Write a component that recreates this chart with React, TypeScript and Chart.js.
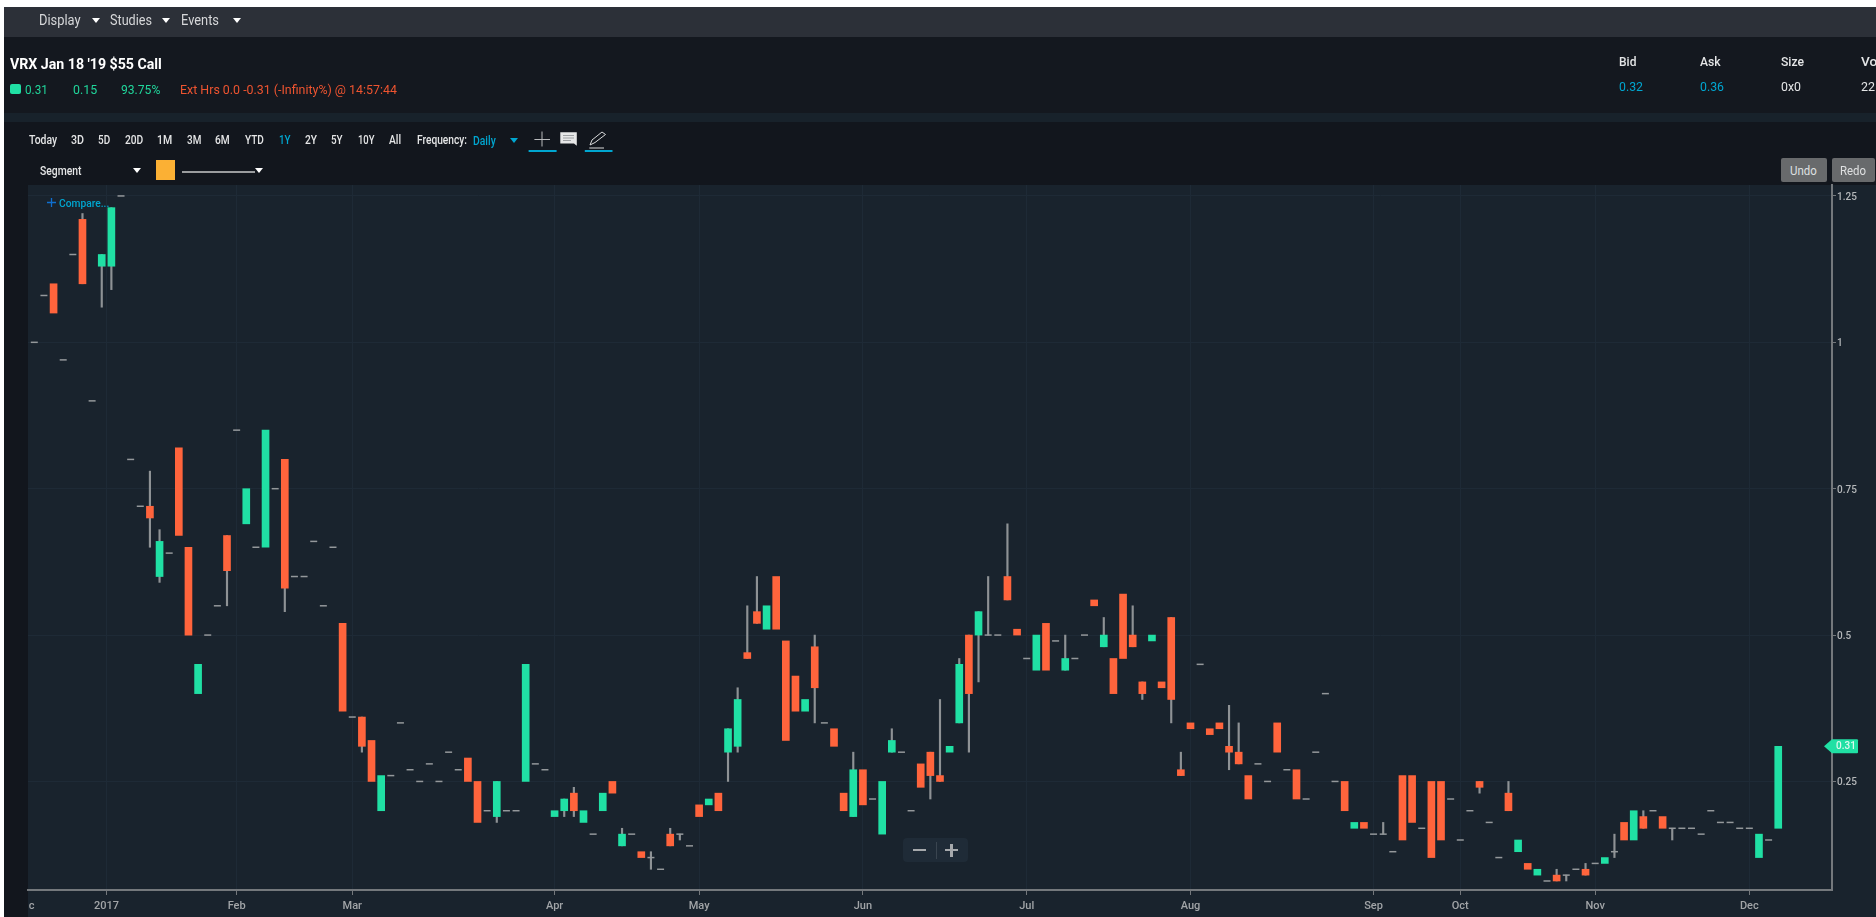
import React, { useEffect, useRef } from "react";
import { Chart, registerables } from "chart.js";

Chart.register(...registerables);

// Daily sessions, in order, left to right
const opens = [
  1.0, 1.08, 1.1, 0.97, 1.15, 1.21, 0.9, 1.13, 1.13, 1.25,
  0.8, 0.72, 0.72, 0.6, 0.64, 0.82, 0.65, 0.4, 0.5, 0.55,
  0.67, 0.85, 0.69, 0.65, 0.65, 0.75, 0.8, 0.6, 0.6, 0.66,
  0.55, 0.65, 0.52, 0.36, 0.36, 0.32, 0.2, 0.26, 0.35, 0.27,
  0.25, 0.28, 0.25, 0.3, 0.27, 0.29, 0.25, 0.2, 0.19, 0.2,
  0.2, 0.25, 0.28, 0.27, 0.19, 0.2, 0.23, 0.18, 0.16, 0.2,
  0.25, 0.14, 0.16, 0.13, 0.12, 0.1, 0.16, 0.16, 0.14, 0.21,
  0.21, 0.23, 0.3, 0.31, 0.47, 0.54, 0.51, 0.6, 0.49, 0.43,
  0.37, 0.48, 0.35, 0.34, 0.23, 0.19, 0.27, 0.22, 0.16, 0.3,
  0.3, 0.2, 0.28, 0.3, 0.26, 0.3, 0.35, 0.5, 0.5, 0.5,
  0.5, 0.6, 0.51, 0.46, 0.44, 0.52, 0.49, 0.44, 0.46, 0.5,
  0.56, 0.48, 0.46, 0.57, 0.5, 0.42, 0.49, 0.42, 0.53, 0.27,
  0.35, 0.45, 0.34, 0.35, 0.31, 0.3, 0.26, 0.28, 0.25, 0.35,
  0.27, 0.27, 0.22, 0.3, 0.4, 0.25, 0.25, 0.17, 0.18, 0.16,
  0.16, 0.13, 0.26, 0.26, 0.17, 0.25, 0.25, 0.22, 0.15, 0.2,
  0.25, 0.18, 0.12, 0.23, 0.13, 0.11, 0.09, 0.08, 0.09, 0.09,
  0.1, 0.1, 0.11, 0.11, 0.13, 0.18, 0.15, 0.19, 0.2, 0.19,
  0.17, 0.17, 0.17, 0.16, 0.2, 0.18, 0.18, 0.17, 0.17, 0.12,
  0.15, 0.17,
];
const closes = [
  1.0, 1.08, 1.05, 0.97, 1.15, 1.1, 0.9, 1.15, 1.23, 1.25,
  0.8, 0.72, 0.7, 0.66, 0.64, 0.67, 0.5, 0.45, 0.5, 0.55,
  0.61, 0.85, 0.75, 0.65, 0.85, 0.75, 0.58, 0.6, 0.6, 0.66,
  0.55, 0.65, 0.37, 0.36, 0.31, 0.25, 0.26, 0.26, 0.35, 0.27,
  0.25, 0.28, 0.25, 0.3, 0.27, 0.25, 0.18, 0.2, 0.25, 0.2,
  0.2, 0.45, 0.28, 0.27, 0.2, 0.22, 0.2, 0.2, 0.16, 0.23,
  0.23, 0.16, 0.16, 0.12, 0.12, 0.1, 0.14, 0.16, 0.14, 0.19,
  0.22, 0.2, 0.34, 0.39, 0.46, 0.52, 0.55, 0.51, 0.32, 0.37,
  0.39, 0.41, 0.35, 0.31, 0.2, 0.27, 0.21, 0.22, 0.25, 0.32,
  0.3, 0.2, 0.24, 0.26, 0.25, 0.31, 0.45, 0.4, 0.54, 0.5,
  0.5, 0.56, 0.5, 0.46, 0.5, 0.44, 0.49, 0.46, 0.46, 0.5,
  0.55, 0.5, 0.4, 0.46, 0.48, 0.4, 0.5, 0.41, 0.39, 0.26,
  0.34, 0.45, 0.33, 0.34, 0.3, 0.28, 0.22, 0.28, 0.25, 0.3,
  0.27, 0.22, 0.22, 0.3, 0.4, 0.25, 0.2, 0.18, 0.17, 0.16,
  0.16, 0.13, 0.15, 0.18, 0.17, 0.12, 0.15, 0.22, 0.15, 0.2,
  0.24, 0.18, 0.12, 0.2, 0.15, 0.1, 0.1, 0.08, 0.08, 0.09,
  0.1, 0.09, 0.11, 0.12, 0.13, 0.15, 0.2, 0.17, 0.2, 0.17,
  0.17, 0.17, 0.17, 0.16, 0.2, 0.18, 0.18, 0.17, 0.17, 0.16,
  0.15, 0.31,
];

// Sessions whose range reaches beyond the body
const wickSessions = [5, 7, 8, 12, 13, 20, 26, 34, 48, 55, 56, 61, 64, 66, 67, 72, 73, 74, 75, 81, 85, 89, 93, 94, 96, 97, 98, 99, 101, 107, 111, 114, 115, 118, 119, 124, 125, 140, 150, 153, 158, 159, 161, 164, 167, 170];
const wickHighs = [1.22, 1.15, 1.23, 0.78, 0.68, 0.67, 0.8, 0.36, 0.25, 0.22, 0.24, 0.17, 0.13, 0.17, 0.16, 0.34, 0.41, 0.55, 0.6, 0.5, 0.3, 0.34, 0.3, 0.39, 0.46, 0.5, 0.54, 0.6, 0.69, 0.5, 0.53, 0.55, 0.42, 0.53, 0.3, 0.38, 0.35, 0.18, 0.25, 0.25, 0.1, 0.09, 0.11, 0.16, 0.2, 0.17];
const wickLows = [1.1, 1.06, 1.09, 0.65, 0.59, 0.55, 0.54, 0.3, 0.18, 0.19, 0.19, 0.14, 0.1, 0.14, 0.15, 0.25, 0.3, 0.46, 0.52, 0.35, 0.19, 0.3, 0.22, 0.25, 0.35, 0.3, 0.42, 0.5, 0.56, 0.44, 0.48, 0.48, 0.39, 0.35, 0.26, 0.27, 0.28, 0.16, 0.23, 0.2, 0.08, 0.08, 0.09, 0.12, 0.17, 0.15];

const monthSessions = [-0.29, 7.5, 21, 33, 54, 69, 86, 103, 120, 139, 148, 162, 178];
const monthLabels = ["c", "2017", "Feb", "Mar", "Apr", "May", "Jun", "Jul", "Aug", "Sep", "Oct", "Nov", "Dec"];
const priceTicks = [0.25, 0.5, 0.75, 1, 1.25];
const priceLabels = ["0.25", "0.5", "0.75", "1", "1.25"];
const lastPrice = 0.31;

const GREEN = "#20E0A4";
const ORANGE = "#FF643C";
const WICK = "#8E9295";
const BLUE = "#00A6D0";

const sessions = opens.map((_, i) => i);

const flagPlugin = {
  id: "lastPriceFlag",
  afterDraw(chart: any) {
    const { ctx, scales } = chart;
    const y = scales.y.getPixelForValue(lastPrice);
    const right = scales.x.right;
    ctx.save();
    ctx.fillStyle = GREEN;
    ctx.beginPath();
    ctx.moveTo(right - 8, y);
    ctx.lineTo(right, y - 7);
    ctx.lineTo(right + 25, y - 7);
    ctx.quadraticCurveTo(right + 26, y - 7, right + 26, y - 6);
    ctx.lineTo(right + 26, y + 6);
    ctx.quadraticCurveTo(right + 26, y + 7, right + 25, y + 7);
    ctx.lineTo(right, y + 7);
    ctx.closePath();
    ctx.fill();
    ctx.fillStyle = "#DDF8EE";
    ctx.font = "500 10px Roboto";
    ctx.textAlign = "center";
    ctx.textBaseline = "middle";
    ctx.fillText(String(lastPrice), right + 14, y + 0.5);
    ctx.restore();
  },
};

function T({ t, x, e, y, s = 12, c = "#E4E5E6", w = 500 }: any) {
  const lh = Math.round(s * 1.3);
  return (
    <span
      ref={(el) => {
        if (el) {
          el.style.transform = "none";
          el.style.transform = `scaleX(${(e - x) / el.getBoundingClientRect().width})`;
        }
      }}
      style={{
        position: "absolute",
        left: x,
        top: y - lh / 2,
        lineHeight: `${lh}px`,
        fontFamily: "Roboto",
        fontSize: s,
        fontWeight: w,
        color: c,
        whiteSpace: "nowrap",
        transformOrigin: "left center",
      }}
    >
      {t}
    </span>
  );
}

function Arrow({ x, y, c = "#FFFFFF" }: any) {
  return (
    <div
      style={{
        position: "absolute",
        left: x,
        top: y - 2.5,
        width: 0,
        height: 0,
        borderLeft: "4.5px solid transparent",
        borderRight: "4.5px solid transparent",
        borderTop: `5px solid ${c}`,
      }}
    />
  );
}

function Box({ x, y, w, h, c, r = 0 }: any) {
  return <div style={{ position: "absolute", left: x, top: y, width: w, height: h, background: c, borderRadius: r }} />;
}

export default function App() {
  const ref = useRef<HTMLCanvasElement>(null);

  useEffect(() => {
    const bodyIdx = sessions.filter((i) => opens[i] !== closes[i]);
    const dashIdx = sessions.filter((i) => opens[i] === closes[i]);
    const chart = new Chart(ref.current!, {
      type: "bar",
      plugins: [flagPlugin],
      data: {
        datasets: [
          {
            type: "scatter",
            order: 0,
            data: dashIdx.map((i) => ({ x: i, y: opens[i] })),
            pointStyle: "line",
            pointRadius: 3.5,
            pointBorderWidth: 1.5,
            pointBorderColor: "#94989B",
            pointBackgroundColor: "#94989B",
            showLine: false,
          },
          {
            type: "bar",
            order: 1,
            data: bodyIdx.map((i) => ({ x: i, y: [opens[i], closes[i]] })),
            backgroundColor: bodyIdx.map((i) => (closes[i] > opens[i] ? GREEN : ORANGE)),
            barThickness: 7,
            grouped: false,
          },
          {
            type: "bar",
            order: 2,
            data: wickSessions.map((s, k) => ({ x: s, y: [wickLows[k], wickHighs[k]] })),
            backgroundColor: WICK,
            barThickness: 1.5,
            grouped: false,
          },
        ],
      } as any,
      options: {
        responsive: false,
        animation: false,
        layout: { padding: { left: 28, top: 185, right: 0, bottom: 0 } },
        plugins: { legend: { display: false }, tooltip: { enabled: false } },
        scales: {
          x: {
            type: "linear",
            offset: false,
            min: -0.654,
            max: 186.58,
            afterFit(axis: any) {
              axis.height = 27;
            },
            afterBuildTicks(axis: any) {
              axis.ticks = monthSessions.map((value) => ({ value }));
            },
            border: { color: "#74787C", width: 2 },
            grid: {
              offset: false,
              color: (c: any) => (c.index === 0 ? "rgba(0,0,0,0)" : "#1E2A36"),
              tickColor: (c: any) => (c.index === 0 ? "rgba(0,0,0,0)" : "#74787C"),
              tickLength: 5,
              lineWidth: 1,
            },
            ticks: {
              autoSkip: false,
              maxRotation: 0,
              padding: 5,
              color: "#A2A5A8",
              font: { family: "Roboto", size: 11, weight: 500 },
              callback: (_: any, i: number) => monthLabels[i],
            },
          },
          y: {
            type: "linear",
            position: "right",
            min: 0.0646,
            max: 1.2687,
            afterFit(axis: any) {
              axis.width = 44;
            },
            afterBuildTicks(axis: any) {
              axis.ticks = priceTicks.map((value) => ({ value }));
            },
            border: { color: "#74787C", width: 2 },
            grid: {
              color: "#1E2A36",
              tickColor: "#74787C",
              tickLength: 4,
              lineWidth: 1,
            },
            ticks: {
              padding: 1,
              labelOffset: 1.5,
              color: "#B4B7B9",
              font: { family: "Roboto", size: 10, weight: 500 },
              callback: (_: any, i: number) => priceLabels[i],
            },
          },
        },
      } as any,
    });
    return () => chart.destroy();
  }, []);

  return (
    <div style={{ position: "fixed", left: 0, top: 0, width: 1876, height: 917, overflow: "hidden", background: "#FFFFFF" }}>
      <Box x={4} y={7} w={1872} h={30} c="#2C3038" />
      <Box x={4} y={37} w={1872} h={76} c="#14181F" />
      <Box x={4} y={113} w={1872} h={9} c="#18222B" />
      <Box x={4} y={122} w={1872} h={795} c="#12161D" />
      <Box x={28} y={185} w={1848} h={732} c="#19232D" />

      <canvas ref={ref} width={1876} height={917} style={{ position: "absolute", left: 0, top: 0, display: "block" }} />

      <T t="Display" x={38.8} e={80.4} y={20} s={14} w={400} c="#D6D7D9" />
      <Arrow x={91.5} y={20} />
      <T t="Studies" x={109.8} e={151.8} y={20} s={14} w={400} c="#D6D7D9" />
      <Arrow x={161.6} y={20} />
      <T t="Events" x={180.8} e={218.8} y={20} s={14} w={400} c="#D6D7D9" />
      <Arrow x={233} y={20} />

      <T t="VRX Jan 18 '19 $55 Call" x={9.8} e={161.6} y={63.5} s={15} w={700} c="#FFFFFF" />
      <Box x={9.8} y={84} w={11} h={10} c={GREEN} r={2} />
      <T t="0.31" x={25.4} e={48.2} y={89} s={13} w={400} c="#20D69B" />
      <T t="0.15" x={72.8} e={96.9} y={89} s={13} w={400} c="#20D69B" />
      <T t="93.75%" x={120.5} e={159.8} y={89} s={13} w={400} c="#20D69B" />
      <T t="Ext Hrs 0.0 -0.31 (-Infinity%) @ 14:57:44" x={179.5} e={396.4} y={89} s={13} w={400} c="#EE5430" />

      <T t="Bid" x={1619.3} e={1636.7} y={61} s={13} c="#E4E5E6" />
      <T t="Ask" x={1700} e={1720.7} y={61} s={13} c="#E4E5E6" />
      <T t="Size" x={1781} e={1804} y={61} s={13} c="#E4E5E6" />
      <T t="Vol" x={1861.3} e={1881} y={61} s={13} c="#E4E5E6" />
      <T t="0.32" x={1619} e={1643} y={86.5} s={13} w={400} c={BLUE} />
      <T t="0.36" x={1700} e={1724} y={86.5} s={13} w={400} c={BLUE} />
      <T t="0x0" x={1781} e={1801} y={86} s={13} w={400} c="#E4E5E6" />
      <T t="22" x={1861} e={1875} y={86} s={13} w={400} c="#E4E5E6" />

      <T t="Today" x={28.6} e={56.7} y={139.7} s={12} />
      <T t="3D" x={70.5} e={83.5} y={139.7} s={12} />
      <T t="5D" x={98.2} e={110.3} y={139.7} s={12} />
      <T t="20D" x={124.6} e={142.9} y={139.7} s={12} />
      <T t="1M" x={157.1} e={172.3} y={139.7} s={12} />
      <T t="3M" x={186.6} e={200.9} y={139.7} s={12} />
      <T t="6M" x={215.2} e={229.9} y={139.7} s={12} />
      <T t="YTD" x={244.6} e={263.4} y={139.7} s={12} />
      <T t="1Y" x={278.6} e={290.2} y={139.7} s={12} c={BLUE} />
      <T t="2Y" x={304.5} e={316.5} y={139.7} s={12} />
      <T t="5Y" x={330.8} e={342.4} y={139.7} s={12} />
      <T t="10Y" x={357.6} e={374.1} y={139.7} s={12} />
      <T t="All" x={388.8} e={400.9} y={139.7} s={12} />
      <T t="Frequency:" x={416.5} e={466.5} y={139.7} s={12} />
      <T t="Daily" x={472.8} e={495.5} y={141} s={12} c={BLUE} />
      <Arrow x={510.3} y={140.5} c={BLUE} />

      <svg style={{ position: "absolute", left: 528, top: 128, overflow: "visible" }} width={90} height={26}>
        <path d="M6.4 11.5H22M14 3.5V18.5" stroke="#B9BBBD" strokeWidth={1} fill="none" />
        <rect x={0.6} y={22} width={28} height={2} fill={BLUE} />
        <path d="M32.3 4.3H48.8V17.7L46 15.6H32.3Z" fill="#E6E7E8" />
        <path d="M35 7.5H46M35 10H46M35 12.5H43" stroke="#8C8F92" strokeWidth={0.8} />
        <path d="M62 17L64 12L74 4L77.5 6.5L67 14.5ZM61.3 20H76" stroke="#DADBDC" strokeWidth={1} fill="none" />
        <rect x={56.8} y={22} width={27.7} height={2} fill={BLUE} />
      </svg>

      <T t="Segment" x={40.2} e={81.7} y={170.5} s={12} />
      <Arrow x={133} y={170.5} />
      <Box x={156.3} y={160} w={18.3} h={20} c="#FBB034" />
      <Box x={181.7} y={171} w={73} h={2} c="#9A9C9E" />
      <Arrow x={255.4} y={170.5} />

      <Box x={1781} y={158.3} w={45.7} h={23.4} c="#686A6C" r={2} />
      <T t="Undo" x={1790} e={1816.7} y={170.5} s={13} w={400} c="#DFE0E1" />
      <Box x={1831.7} y={158.3} w={43.3} h={23.4} c="#686A6C" r={2} />
      <T t="Redo" x={1840} e={1866} y={170.5} s={13} w={400} c="#DFE0E1" />

      <svg style={{ position: "absolute", left: 46, top: 197 }} width={12} height={12}>
        <path d="M1 5.5H10M5.5 1V10" stroke="#0F6FD0" strokeWidth={1.3} fill="none" />
      </svg>
      <T t="Compare..." x={58.7} e={109} y={203.5} s={11} c={BLUE} />

      <Box x={902.7} y={838.3} w={65} h={24} c="#1F2B37" r={4} />
      <Box x={913} y={849} w={13} h={2.4} c="#A6A9AC" />
      <Box x={936.4} y={842} w={0.8} h={17} c="#3A4550" />
      <Box x={945} y={849} w={13} h={2.4} c="#A6A9AC" />
      <Box x={950.3} y={843.7} w={2.4} h={13} c="#A6A9AC" />
    </div>
  );
}
